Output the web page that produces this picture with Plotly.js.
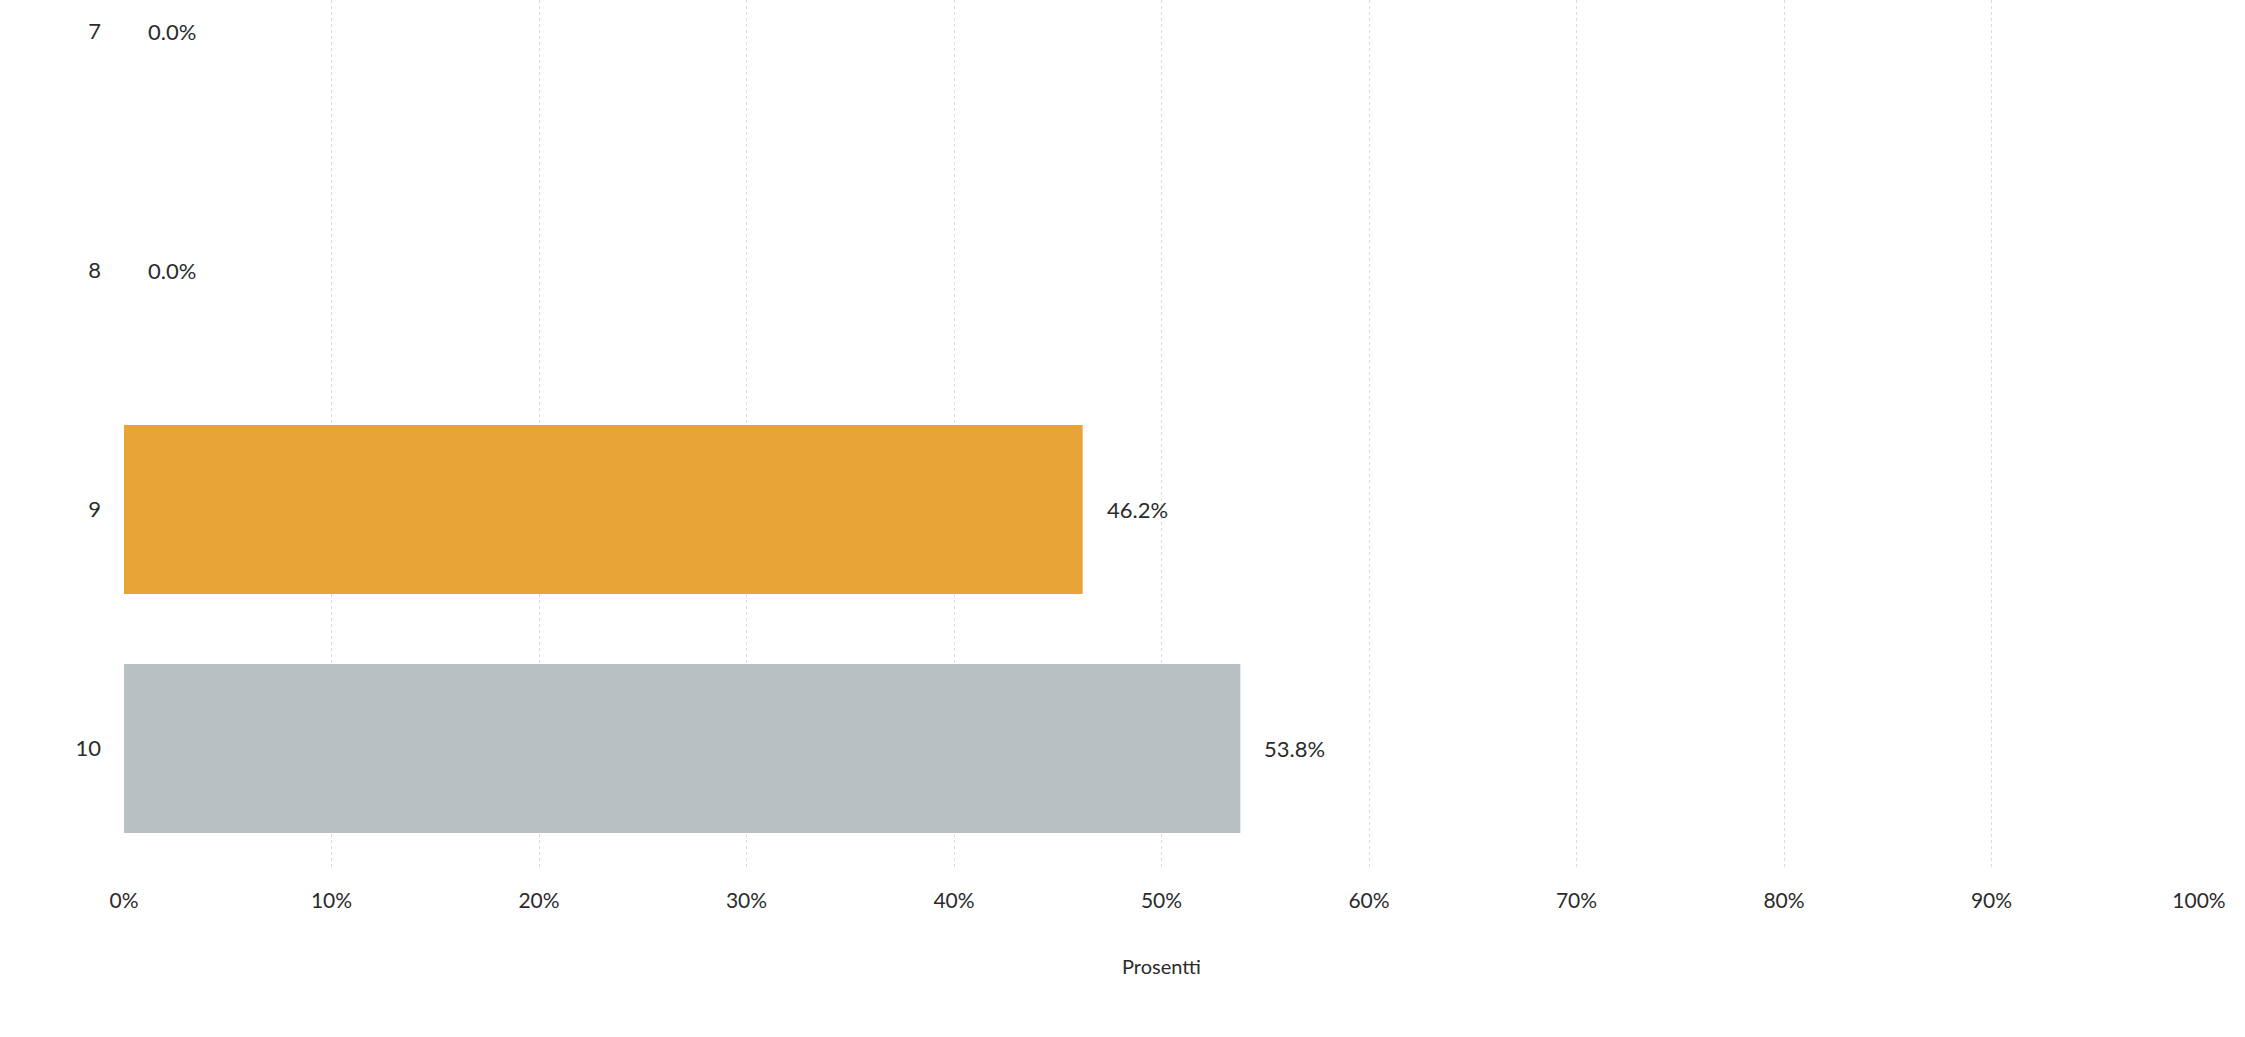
<!DOCTYPE html>
<html>
<head>
<meta charset="utf-8">
<script src="https://cdn.plot.ly/plotly-3.0.1.min.js"></script>
<style>
  html, body { margin: 0; padding: 0; background: #ffffff; }
  #chart { width: 2245px; height: 1037px; }
</style>
</head>
<body>
<div id="chart"></div>
<script>
// Answer categories (score) and their share of responses, in percent
const categories = [7, 8, 9, 10];
const shares = [0.0, 0.0, 46.2, 53.8];
const valueLabels = ['0.0%', '0.0%', '46.2%', '53.8%'];
const barColors = ['#E8A436', '#E8A436', '#E8A436', '#B8C0C4'];
const xTickVals = [0, 10, 20, 30, 40, 50, 60, 70, 80, 90, 100];
const xTickText = ['0%', '10%', '20%', '30%', '40%', '50%', '60%', '70%', '80%', '90%', '100%'];
const axisTitle = 'Prosentti';

const textColor = '#2b2b2b';
const fontFamily = 'Lato, "Open Sans", sans-serif';

const trace = {
  type: 'bar',
  orientation: 'h',
  x: shares,
  y: categories,
  width: 0.707,
  marker: { color: barColors, line: { width: 0 } },
  hoverinfo: 'skip'
};

// value labels sit a little to the right of each bar end
const annotations = shares.map((v, i) => ({
  x: v,
  y: categories[i],
  xref: 'x',
  yref: 'y',
  text: valueLabels[i],
  showarrow: false,
  xanchor: 'left',
  yanchor: 'middle',
  xshift: 22,
  font: { family: fontFamily, size: 22, color: textColor }
}));

const layout = {
  width: 2245,
  height: 1037,
  paper_bgcolor: '#ffffff',
  plot_bgcolor: '#ffffff',
  margin: { l: 124, r: 46, t: 0, b: 169, pad: 0 },
  showlegend: false,
  font: { family: fontFamily, size: 21, color: textColor },
  xaxis: {
    range: [0, 100],
    tickvals: xTickVals,
    ticktext: xTickText,
    showgrid: true,
    gridcolor: '#dcdcdc',
    gridwidth: 1,
    griddash: 'dot',
    zeroline: false,
    showline: false,
    ticks: '',
    ticklabelstandoff: 18,
    tickfont: { family: fontFamily, size: 21, color: textColor },
    title: { text: axisTitle, standoff: 48, font: { family: fontFamily, size: 20, color: textColor } },
    fixedrange: true
  },
  yaxis: {
    range: [10.5, 6.868],
    tickvals: categories,
    ticktext: categories.map(String),
    showgrid: false,
    zeroline: false,
    showline: false,
    ticks: '',
    ticklabelstandoff: 22,
    tickfont: { family: fontFamily, size: 22, color: textColor },
    fixedrange: true
  },
  annotations: annotations
};

Plotly.newPlot('chart', [trace], layout, { displayModeBar: false, staticPlot: true });
</script>
</body>
</html>
